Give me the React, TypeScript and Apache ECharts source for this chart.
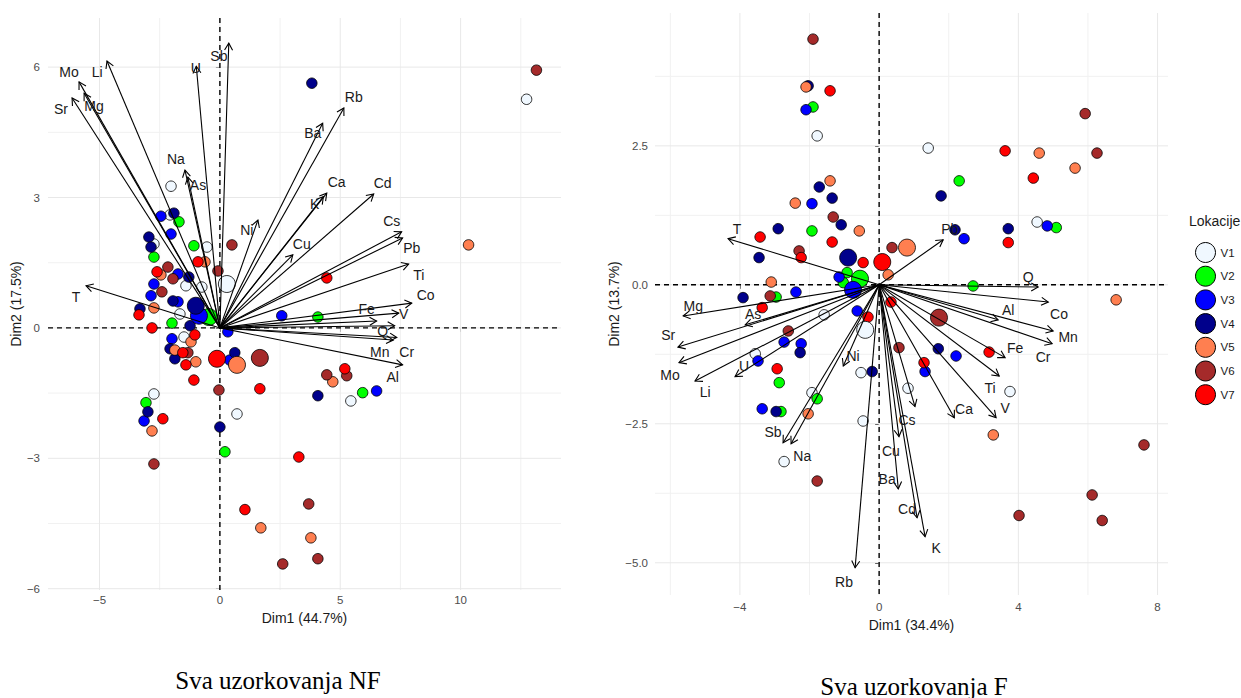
import React, { useEffect, useRef } from 'react';
import * as echarts from 'echarts';

// ---------- groups ----------
const groups = ['V1', 'V2', 'V3', 'V4', 'V5', 'V6', 'V7'];
const groupColors = ['#F0F8FF', '#00FF00', '#0000FF', '#00008B', '#FF7F50', '#A52A2A', '#FF0000'];

// ---------- NF biplot (left) ----------
const nfV1 = [[-2.03, 3.26], [-2.07, 2.6], [-2.74, 1.93], [-0.54, 1.86], [-1.41, 0.97], [-0.75, 0.94], [-1.66, 0.32], [-1.49, -0.21], [-2.74, -1.52], [0.71, -1.98], [5.44, -1.68], [12.74, 5.26]];
const nfV2 = [[-1.7, 2.44], [-2.74, 1.63], [-1.08, 1.89], [4.07, 0.25], [-1.99, 0.11], [-3.07, -1.72], [0.21, -2.85], [5.93, -1.49]];
const nfV3 = [[-2.45, 2.57], [-2.03, 2.16], [-1.74, 1.24], [-2.74, 1.01], [-2.86, 0.74], [-1.74, 0.6], [0.33, -0.09], [2.57, 0.28], [-1.99, -0.25], [0.41, -0.74], [-3.15, -2.14], [6.51, -1.45]];
const nfV4 = [[-1.91, 2.64], [-2.95, 2.09], [-2.86, 1.86], [-1.29, 1.17], [-1.95, 0.62], [-3.32, 0.44], [-1.24, 0.05], [-2.07, -0.48], [-1.87, -0.71], [0.62, -0.57], [-2.99, -1.93], [0.0, -2.28], [4.07, -1.56], [3.82, 5.63]];
const nfV5 = [[-0.62, 1.52], [-2.45, 1.22], [-2.74, 0.46], [-1.2, -0.32], [-1.87, -0.51], [-1.0, -0.78], [-2.82, -2.37], [4.69, -1.24], [1.7, -4.6], [3.78, -4.83], [10.33, 1.91]];
const nfV6 = [[0.5, 1.91], [-2.16, 1.4], [-1.95, 1.13], [-0.08, 1.31], [-2.41, 0.83], [-1.33, -0.57], [-0.04, -1.43], [-2.74, -3.13], [3.69, -4.05], [4.07, -5.31], [2.61, -5.43], [4.44, -1.08], [5.27, -1.1], [13.15, 5.93]];
const nfV7 = [[-0.91, 1.52], [-2.61, 1.29], [-3.36, 0.3], [-2.82, 0.0], [4.44, 1.15], [-1.04, -0.16], [-1.54, -0.57], [-1.41, -0.85], [-1.08, -1.2], [1.66, -1.4], [-2.37, -2.09], [3.28, -2.97], [1.04, -4.18], [5.19, -0.94]];
const nfMeans = [[0.29, 1.01], [-0.46, 0.25], [-0.87, 0.28], [-1.0, 0.51], [0.71, -0.85], [1.66, -0.69], [-0.12, -0.71]];

const nfVarNames = ['Sb', 'U', 'Mo', 'Li', 'Mg', 'Sr', 'Na', 'As', 'Ni', 'T', 'Cu', 'Ba', 'Rb', 'Ca', 'K', 'Cd', 'Cs', 'Pb', 'Ti', 'Co', 'V', 'Fe', 'Q', 'Mn', 'Cr', 'Al'];
const nfVarTips = [[0.37, 6.55], [-0.98, 6.02], [-5.85, 5.66], [-4.69, 6.14], [-5.64, 5.4], [-6.14, 5.29], [-1.45, 3.63], [-1.33, 3.47], [1.58, 2.48], [-5.56, 0.97], [3.03, 1.68], [4.27, 4.71], [5.15, 5.06], [4.44, 3.1], [4.3, 3.02], [6.39, 3.08], [7.55, 2.21], [7.59, 2.07], [7.84, 1.47], [7.97, 0.57], [7.43, 0.34], [6.51, 0.16], [7.26, 0.05], [7.2, -0.28], [7.35, -0.22], [7.59, -0.85]];
const nfVarLabels = [[-0.04, 6.25], [-1.0, 5.98], [-6.27, 5.89], [-5.1, 5.89], [-5.23, 5.1], [-6.6, 5.03], [-1.83, 3.89], [-0.91, 3.29], [1.12, 2.25], [-5.98, 0.71], [3.4, 1.93], [3.86, 4.48], [5.56, 5.31], [4.85, 3.36], [3.94, 2.85], [6.76, 3.33], [7.14, 2.46], [7.97, 1.84], [8.26, 1.22], [8.55, 0.76], [7.63, 0.32], [6.1, 0.44], [6.76, -0.07], [6.64, -0.55], [7.76, -0.55], [7.18, -1.13]];

const nfXTicks = [-5, 0, 5, 10];
const nfYTicks = [-6, -3, 0, 3, 6];
const nfXMinor = [-2.5, 2.5, 7.5, 12.5];
const nfYMinor = [-4.5, -1.5, 1.5, 4.5];

// ---------- F biplot (right) ----------
const fV1 = [[-1.78, 2.68], [1.41, 2.46], [4.54, 1.13], [-1.58, -0.54], [-3.56, -1.24], [-1.93, -1.94], [-2.73, -3.18], [-0.52, -1.58], [-0.46, -2.45], [0.83, -1.86], [3.76, -1.92]];
const fV2 = [[-1.9, 3.2], [-1.93, 0.97], [-0.92, 0.22], [-1.03, 0.04], [-2.96, -0.22], [2.3, 1.87], [5.09, 1.03], [2.7, -0.02], [-2.87, -1.76], [-1.78, -2.05], [-2.82, -2.28]];
const fV3 = [[-2.1, 3.15], [-1.93, 1.46], [-1.15, 0.14], [-2.39, -0.13], [-0.63, -0.47], [4.83, 1.06], [2.44, 0.83], [-2.73, -1.03], [-2.24, -1.06], [-3.48, -1.37], [-3.36, -2.23], [2.21, -1.28], [1.32, -1.56]];
const fV4 = [[-2.04, 3.58], [-1.72, 1.76], [-1.35, 1.56], [-1.09, 1.08], [-2.9, 1.01], [-3.45, 0.49], [-3.91, -0.23], [1.78, 1.6], [2.18, 0.99], [3.71, 1.01], [-2.27, -1.22], [-2.96, -2.28], [-0.2, -1.56], [1.7, -1.15]];
const fV5 = [[-2.1, 3.56], [-1.41, 1.87], [-2.41, 1.47], [-0.57, 0.97], [0.26, 0.18], [-3.1, 0.05], [4.6, 2.37], [5.63, 2.1], [6.81, -0.27], [-2.04, -2.32], [3.28, -2.7]];
const fV6 = [[-1.9, 4.42], [-1.32, 1.22], [-2.3, 0.61], [0.37, 0.67], [-3.13, -0.2], [5.92, 3.08], [6.26, 2.37], [-2.61, -0.83], [-1.78, -3.53], [0.57, -1.13], [7.61, -2.88], [6.12, -3.78], [4.02, -4.15], [6.41, -4.24]];
const fV7 = [[-1.41, 3.49], [-3.42, 0.86], [-1.35, 0.77], [-2.24, 0.49], [-0.46, 0.4], [-3.36, -0.41], [0.34, -0.31], [3.62, 2.41], [4.43, 1.92], [3.71, 0.76], [-0.32, -0.58], [-2.93, -1.51], [3.16, -1.21], [1.29, -1.4]];
const fMeans = [[-0.4, -0.81], [-0.55, 0.11], [-0.75, -0.09], [-0.89, 0.49], [0.8, 0.67], [1.72, -0.59], [0.09, 0.41]];

const fVarNames = ['T', 'Mg', 'As', 'Sr', 'Mo', 'Li', 'U', 'Ni', 'Sb', 'Na', 'Rb', 'Ba', 'Cu', 'Cd', 'K', 'Cs', 'Ca', 'V', 'Ti', 'Fe', 'Cr', 'Mn', 'Co', 'Al', 'Q', 'Pb'];
const fVarTips = [[-4.34, 0.83], [-5.63, -0.56], [-3.85, -0.72], [-5.78, -1.12], [-5.75, -1.4], [-5.29, -1.73], [-4.14, -1.65], [-1.03, -1.46], [-2.76, -2.84], [-2.53, -2.86], [-0.69, -5.09], [0.55, -3.67], [0.57, -2.73], [1.09, -4.19], [1.32, -4.53], [1.03, -2.19], [2.16, -2.39], [3.36, -2.39], [3.45, -1.64], [3.62, -1.31], [4.97, -1.06], [5.0, -0.83], [4.86, -0.31], [3.42, -0.63], [4.57, -0.04], [1.84, 0.81]];
const fVarLabels = [[-4.08, 1.01], [-5.34, -0.38], [-3.62, -0.52], [-6.06, -0.9], [-6.01, -1.62], [-5.0, -1.92], [-3.88, -1.46], [-0.75, -1.28], [-3.05, -2.64], [-2.21, -3.08], [-1.01, -5.34], [0.23, -3.49], [0.34, -2.99], [0.8, -4.03], [1.64, -4.73], [0.8, -2.43], [2.44, -2.23], [3.62, -2.21], [3.19, -1.85], [3.91, -1.13], [4.71, -1.3], [5.43, -0.93], [5.17, -0.52], [3.71, -0.45], [4.28, 0.14], [2.03, 1.01]];

const fXTicks = [-4, 0, 4, 8];
const fYTicks = [-5, -2.5, 0, 2.5];
const fXMinor = [-6, -2, 2, 6];
const fYMinor = [-3.75, -1.25, 1.25, 3.75];

const nfGroups = [nfV1, nfV2, nfV3, nfV4, nfV5, nfV6, nfV7];
const fGroups = [fV1, fV2, fV3, fV4, fV5, fV6, fV7];

const SANS = '"Liberation Sans", Arial, Helvetica, sans-serif';
const SERIF = '"Liberation Serif", "Times New Roman", Times, serif';

const minus = (s: string) => s.replace('-', '\u2212');
const fmtInt = (v: number) => minus(String(v));
const fmtOne = (v: number) => minus(v.toFixed(1));

function gridLines(gi: number, values: number[], orient: 'v' | 'h', color: string) {
  return {
    type: 'custom',
    xAxisIndex: gi,
    yAxisIndex: gi,
    silent: true,
    z: 1,
    data: values.map((v) => (orient === 'v' ? [v, 0] : [0, v])),
    renderItem: (params: any, api: any) => {
      const cs = params.coordSys;
      const p = api.coord([api.value(0), api.value(1)]);
      const shape =
        orient === 'v'
          ? { x1: p[0], y1: cs.y, x2: p[0], y2: cs.y + cs.height }
          : { x1: cs.x, y1: p[1], x2: cs.x + cs.width, y2: p[1] };
      return { type: 'line', shape, style: { stroke: color, lineWidth: 1, fill: null } };
    },
  };
}

function zeroLines(gi: number) {
  return {
    type: 'custom',
    xAxisIndex: gi,
    yAxisIndex: gi,
    silent: true,
    z: 2,
    data: [[0, 0]],
    renderItem: (params: any, api: any) => {
      const cs = params.coordSys;
      const p = api.coord([api.value(0), api.value(1)]);
      const st = { stroke: '#000', lineWidth: 1.4, lineDash: [5, 4], fill: null };
      return {
        type: 'group',
        children: [
          { type: 'line', shape: { x1: p[0], y1: cs.y, x2: p[0], y2: cs.y + cs.height }, style: st },
          { type: 'line', shape: { x1: cs.x, y1: p[1], x2: cs.x + cs.width, y2: p[1] }, style: st },
        ],
      };
    },
  };
}

function pointSeries(gi: number, sets: number[][][], means: number[][]) {
  const out: any[] = [];
  sets.forEach((pts, i) => {
    out.push({
      type: 'scatter',
      name: groups[i],
      xAxisIndex: gi,
      yAxisIndex: gi,
      silent: true,
      z: 3,
      symbol: 'circle',
      symbolSize: 10.5,
      itemStyle: { color: groupColors[i], borderColor: '#000', borderWidth: 0.8, opacity: 1 },
      data: pts,
    });
  });
  means.forEach((m, i) => {
    out.push({
      type: 'scatter',
      name: groups[i],
      xAxisIndex: gi,
      yAxisIndex: gi,
      silent: true,
      z: 3,
      symbol: 'circle',
      symbolSize: 17,
      itemStyle: { color: groupColors[i], borderColor: '#000', borderWidth: 0.8, opacity: 1 },
      data: [m],
    });
  });
  return out;
}

function arrowSeries(gi: number, tips: number[][]) {
  return {
    type: 'custom',
    xAxisIndex: gi,
    yAxisIndex: gi,
    silent: true,
    z: 4,
    data: tips,
    renderItem: (params: any, api: any) => {
      const o = api.coord([0, 0]);
      const t = api.coord([api.value(0), api.value(1)]);
      const ang = Math.atan2(t[1] - o[1], t[0] - o[0]);
      const L = 8;
      const a = Math.PI / 6;
      const p1 = [t[0] - L * Math.cos(ang - a), t[1] - L * Math.sin(ang - a)];
      const p2 = [t[0] - L * Math.cos(ang + a), t[1] - L * Math.sin(ang + a)];
      const st = { stroke: '#000', lineWidth: 1.1, fill: null };
      return {
        type: 'group',
        children: [
          { type: 'line', shape: { x1: o[0], y1: o[1], x2: t[0], y2: t[1] }, style: st },
          { type: 'polyline', shape: { points: [p1, t, p2] }, style: st },
        ],
      };
    },
  };
}

function labelSeries(gi: number, pos: number[][], names: string[]) {
  return {
    type: 'custom',
    xAxisIndex: gi,
    yAxisIndex: gi,
    silent: true,
    z: 5,
    data: pos,
    renderItem: (params: any, api: any) => {
      const p = api.coord([api.value(0), api.value(1)]);
      return {
        type: 'text',
        x: p[0],
        y: p[1],
        style: {
          text: names[params.dataIndex],
          fill: '#1a1a1a',
          font: '14px ' + SANS,
          align: 'center',
          verticalAlign: 'middle',
        },
      };
    },
  };
}

function xAxis(gi: number, min: number, max: number, ticks: number[], fmt: any, name: string, nameGap: number, margin: number) {
  return {
    type: 'value',
    gridIndex: gi,
    min,
    max,
    axisLine: { show: false },
    axisTick: { show: true, customValues: ticks, length: 4, lineStyle: { color: '#333', width: 1 } },
    axisLabel: { customValues: ticks, formatter: fmt, color: '#4d4d4d', fontSize: 11.5, fontFamily: SANS, margin },
    splitLine: { show: false },
    name,
    nameLocation: 'middle',
    nameGap,
    nameTextStyle: { color: '#1a1a1a', fontSize: 14, fontFamily: SANS },
  };
}

function yAxis(gi: number, min: number, max: number, ticks: number[], fmt: any, name: string, nameGap: number, margin: number) {
  return {
    type: 'value',
    gridIndex: gi,
    min,
    max,
    axisLine: { show: false },
    axisTick: { show: true, customValues: ticks, length: 4, lineStyle: { color: '#333', width: 1 } },
    axisLabel: { customValues: ticks, formatter: fmt, color: '#4d4d4d', fontSize: 11.5, fontFamily: SANS, margin },
    splitLine: { show: false },
    name,
    nameLocation: 'middle',
    nameGap,
    nameRotate: 90,
    nameTextStyle: { color: '#1a1a1a', fontSize: 14, fontFamily: SANS },
  };
}

function buildOption() {
  return {
    animation: false,
    backgroundColor: '#ffffff',
    textStyle: { fontFamily: SANS },
    grid: [
      { left: 48, top: 18, width: 513, height: 572 },
      { left: 655, top: 13, width: 513, height: 582 },
    ],
    xAxis: [
      xAxis(0, -7.14, 14.17, nfXTicks, fmtInt, 'Dim1 (44.7%)', 12, 4),
      xAxis(1, -6.44, 8.3, fXTicks, fmtInt, 'Dim1 (34.4%)', 19, 6),
    ],
    yAxis: [
      yAxis(0, -6.03, 7.13, nfYTicks, fmtInt, 'Dim2 (17.5%)', 24, 8),
      yAxis(1, -5.58, 4.89, fYTicks, fmtOne, 'Dim2 (13.7%)', 33, 7),
    ],
    legend: {
      orient: 'vertical',
      left: 1190,
      top: 237,
      itemWidth: 20,
      itemHeight: 20,
      itemGap: 2.7,
      icon: 'circle',
      selectedMode: false,
      data: groups,
      itemStyle: { borderColor: '#000', borderWidth: 1 },
      textStyle: { fontSize: 11.5, color: '#1a1a1a', fontFamily: SANS },
    },
    graphic: [
      {
        type: 'text',
        left: 1189,
        top: 214,
        style: { text: 'Lokacije', font: '14px ' + SANS, fill: '#1a1a1a' },
      },
      {
        type: 'text',
        x: 278,
        y: 680,
        style: { text: 'Sva uzorkovanja NF', font: '25px ' + SERIF, fill: '#000', align: 'center', verticalAlign: 'middle' },
      },
      {
        type: 'text',
        x: 914,
        y: 686,
        style: { text: 'Sva uzorkovanja F', font: '25px ' + SERIF, fill: '#000', align: 'center', verticalAlign: 'middle' },
      },
    ],
    series: [
      gridLines(0, nfXMinor, 'v', '#f1f1f1'),
      gridLines(0, nfYMinor, 'h', '#f1f1f1'),
      gridLines(0, nfXTicks, 'v', '#e8e8e8'),
      gridLines(0, nfYTicks, 'h', '#e8e8e8'),
      gridLines(1, fXMinor, 'v', '#f1f1f1'),
      gridLines(1, fYMinor, 'h', '#f1f1f1'),
      gridLines(1, fXTicks, 'v', '#e8e8e8'),
      gridLines(1, fYTicks, 'h', '#e8e8e8'),
      zeroLines(0),
      zeroLines(1),
      ...pointSeries(0, nfGroups, nfMeans),
      ...pointSeries(1, fGroups, fMeans),
      arrowSeries(0, nfVarTips),
      arrowSeries(1, fVarTips),
      labelSeries(0, nfVarLabels, nfVarNames),
      labelSeries(1, fVarLabels, fVarNames),
    ],
  };
}

export default function App() {
  const ref = useRef<HTMLDivElement>(null);
  useEffect(() => {
    if (!ref.current) return;
    const chart = echarts.init(ref.current, null, { renderer: 'svg' });
    chart.setOption(buildOption() as any);
    return () => chart.dispose();
  }, []);
  return (
    <div
      ref={ref}
      style={{ position: 'fixed', left: 0, top: 0, width: 1241, height: 698, background: '#fff' }}
    />
  );
}
